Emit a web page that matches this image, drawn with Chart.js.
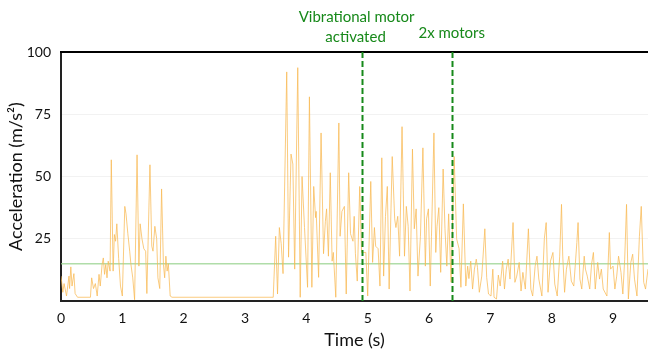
<!DOCTYPE html>
<html>
<head>
<meta charset="utf-8">
<script src="https://cdn.jsdelivr.net/npm/chart.js@4/dist/chart.umd.min.js"></script>
<style>
  body { margin: 0; background: #fff; }
  canvas { display: block; }
</style>
</head>
<body>
<canvas id="accelChart" width="648" height="352"></canvas>
<script>
// time (s) and acceleration (m/s^2)
const timeS = [
  0.00, 0.03, 0.05, 0.09, 0.13, 0.14, 0.16, 0.18, 0.21, 0.23, 0.27, 0.48, 0.50, 0.53, 0.56, 0.59,
  0.62, 0.64, 0.67, 0.69, 0.71, 0.73, 0.75, 0.77, 0.80, 0.82, 0.85, 0.87, 0.89, 0.91, 0.94, 0.97,
  1.00, 1.04, 1.06, 1.09, 1.12, 1.14, 1.17, 1.20, 1.24, 1.27, 1.29, 1.32, 1.35, 1.38, 1.40, 1.45,
  1.48, 1.50, 1.53, 1.56, 1.58, 1.61, 1.64, 1.67, 1.69, 1.71, 1.73, 1.75, 1.78, 1.81, 3.46,
  3.50, 3.53, 3.56, 3.59, 3.62, 3.68, 3.71, 3.75, 3.78, 3.81, 3.86, 3.90, 3.93, 3.97, 4.02, 4.05,
  4.09, 4.12, 4.15, 4.16, 4.20, 4.24, 4.28, 4.31, 4.33, 4.36, 4.39, 4.42, 4.44, 4.48, 4.53, 4.55,
  4.58, 4.62, 4.65, 4.69, 4.72, 4.76, 4.78, 4.80, 4.83, 4.87, 4.90, 4.97, 5.00, 5.05, 5.08, 5.11,
  5.13, 5.17, 5.20, 5.23, 5.26, 5.29, 5.32, 5.35, 5.38, 5.40, 5.44, 5.46, 5.49, 5.52, 5.56, 5.60,
  5.63, 5.66, 5.69, 5.73, 5.76, 5.79, 5.82, 5.86, 5.90, 5.94, 5.96, 5.99, 6.02, 6.04, 6.08, 6.11,
  6.13, 6.16, 6.19, 6.23, 6.26, 6.29, 6.32, 6.36, 6.41, 6.45, 6.49, 6.52, 6.56, 6.60, 6.63, 6.65,
  6.68, 6.71, 6.74, 6.77, 6.79, 6.82, 6.86, 6.91, 6.94, 6.97, 7.01, 7.04, 7.06, 7.10, 7.13, 7.16,
  7.20, 7.23, 7.26, 7.29, 7.32, 7.37, 7.40, 7.43, 7.47, 7.50, 7.53, 7.57, 7.62, 7.66, 7.69, 7.73,
  7.76, 7.79, 7.84, 7.88, 7.91, 7.94, 7.98, 8.02, 8.05, 8.09, 8.13, 8.16, 8.18, 8.21, 8.24, 8.28,
  8.32, 8.36, 8.41, 8.43, 8.46, 8.49, 8.53, 8.55, 8.58, 8.62, 8.65, 8.68, 8.71, 8.75, 8.78, 8.81,
  8.84, 8.90, 8.94, 8.96, 9.00, 9.03, 9.06, 9.09, 9.13, 9.16, 9.19, 9.22, 9.25, 9.29, 9.32, 9.35,
  9.39, 9.43, 9.46, 9.50, 9.53, 9.57
];
const accel = [
  10, 3.5, 7, 2, 10, 5, 13.7, 6, 11, 3, 1.5, 1.5, 9.3, 5, 7, 2,
  10.7, 6, 14.7, 17.3, 10.7, 14.7, 9.3, 16, 12, 56.7, 12, 26.7, 24, 31, 17, 6,
  2, 38, 35, 27, 20, 14.7, 9.3, 0.5, 58.7, 14, 31, 25, 21, 20, 3, 54.7,
  22, 20, 30, 25, 9.3, 5, 45, 14.7, 9.3, 18, 12, 15, 2, 1.5, 1.5,
  26, 2.8, 29.5, 23, 11, 92, 17.6, 59, 55, 12.8, 93.7, 1.5, 50, 29.5, 5.5, 82,
  5.5, 46, 33.5, 36, 9.5, 67.5, 19, 32, 37, 18, 51.5, 16, 19.5, 1.5, 71.5, 26,
  36, 38, 2.8, 51.5, 27, 24, 34, 19, 8, 46, 19.5, 19.5, 2, 48, 15.5, 29.5,
  22, 21, 6, 57.5, 10, 34, 46, 4.8, 37, 58, 33, 29.5, 34, 18, 70, 18,
  38, 30, 4, 61, 29, 37, 10, 26, 61.5, 14, 33, 37, 6, 26, 67.5, 19.5,
  30, 37.5, 11.5, 53, 29, 14, 35, 7.5, 58, 25, 21, 5.5, 39, 6, 14, 9,
  16, 4.8, 12.8, 16.8, 13.5, 3.5, 10, 29, 9.5, 2.8, 2, 12.8, 1.5, 0.8, 10.4, 6,
  16, 4.8, 12.8, 16.8, 8.8, 31.5, 7.5, 10, 15.5, 4, 11.5, 4.8, 29, 4.8, 2, 14,
  18, 8.8, 2, 25, 31.5, 3.5, 16, 19.5, 6.8, 2, 18, 38.8, 18, 3.5, 12.8, 18,
  8, 6, 23.5, 31.5, 8.8, 4.8, 18, 12.8, 10, 4.8, 14.8, 19.5, 4.8, 15.5, 8.8, 12.8,
  4.8, 2, 27.5, 12.8, 14, 4.8, 10, 18, 11.5, 2.8, 16.8, 38.8, 0.8, 15.5, 18.8, 8.8,
  2, 26, 38, 7.5, 4.8, 12.8
];
const threshold = 15;
const motorTimes = [4.9, 6.37];
const motorLabels = [['Vibrational motor', 'activated'], ['2x motors']];
const xTicks = [0, 1, 2, 3, 4, 5, 6, 7, 8, 9];
const yTicks = [25, 50, 75, 100];
const xMax = 9.57;

const FONT = 'Lato, "Open Sans", sans-serif';
const GREEN = '#17891a';

const motorLines = {
  id: 'motorLines',
  afterDatasetsDraw(chart) {
    const { ctx, chartArea, scales } = chart;
    ctx.save();
    // top frame line
    ctx.strokeStyle = '#000';
    ctx.lineWidth = 2;
    ctx.beginPath();
    ctx.moveTo(chartArea.left - 1, chartArea.top);
    ctx.lineTo(chartArea.right, chartArea.top);
    ctx.stroke();

    ctx.strokeStyle = GREEN;
    ctx.lineWidth = 2;
    ctx.setLineDash([6, 3]);
    motorTimes.forEach(function (t) {
      const x = Math.round(scales.x.getPixelForValue(t)) + 0.5;
      ctx.beginPath();
      ctx.moveTo(x, chartArea.top);
      ctx.lineTo(x, chartArea.bottom);
      ctx.stroke();
    });
    ctx.setLineDash([]);

    ctx.fillStyle = GREEN;
    ctx.font = '15px ' + FONT;
    ctx.textAlign = 'center';
    ctx.textBaseline = 'middle';
    motorTimes.forEach(function (t, i) {
      const x = scales.x.getPixelForValue(t);
      const lines = motorLabels[i];
      if (lines.length === 2) {
        ctx.fillText(lines[0], x - 5, 17);
        ctx.fillText(lines[1], x - 6, 37);
      } else {
        ctx.fillText(lines[0], x, 33);
      }
    });
    ctx.restore();
  }
};

new Chart(document.getElementById('accelChart'), {
  type: 'line',
  data: {
    datasets: [{
      data: timeS.map(function (t, i) { return { x: t, y: accel[i] }; }),
      borderColor: 'rgba(248, 186, 84, 0.75)',
      borderWidth: 1,
      pointRadius: 0,
      tension: 0
    }, {
      data: [{ x: 0, y: threshold }, { x: xMax, y: threshold }],
      borderColor: 'rgba(150, 210, 140, 0.75)',
      borderWidth: 1.5,
      pointRadius: 0
    }]
  },
  options: {
    responsive: false,
    animation: false,
    layout: { padding: { top: 52, right: 0, left: 0, bottom: 0 } },
    plugins: { legend: { display: false }, tooltip: { enabled: false } },
    scales: {
      x: {
        type: 'linear',
        min: 0,
        max: xMax,
        afterBuildTicks: function (s) { s.ticks = xTicks.map(function (v) { return { value: v }; }); },
        afterFit: function (s) { s.height = 51; },
        grid: { display: false, drawTicks: false },
        border: { color: '#222', width: 2 },
        ticks: { color: '#111', padding: 9, maxRotation: 0, font: { family: FONT, size: 14 } },
        title: {
          display: true,
          text: 'Time (s)',
          color: '#111',
          font: { family: FONT, size: 18 },
          padding: { top: 0, bottom: 1 }
        }
      },
      y: {
        min: 0,
        max: 100,
        afterBuildTicks: function (s) { s.ticks = yTicks.map(function (v) { return { value: v }; }); },
        afterFit: function (s) { s.width = 61; },
        grid: { color: '#f2f2f2', drawTicks: false },
        border: { color: '#222', width: 2 },
        ticks: { color: '#111', padding: 10, font: { family: FONT, size: 14 } },
        title: {
          display: true,
          text: 'Acceleration (m/s²)',
          color: '#111',
          font: { family: FONT, size: 18 },
          padding: { top: 5, bottom: 0 }
        }
      }
    }
  },
  plugins: [motorLines]
});
</script>
</body>
</html>
